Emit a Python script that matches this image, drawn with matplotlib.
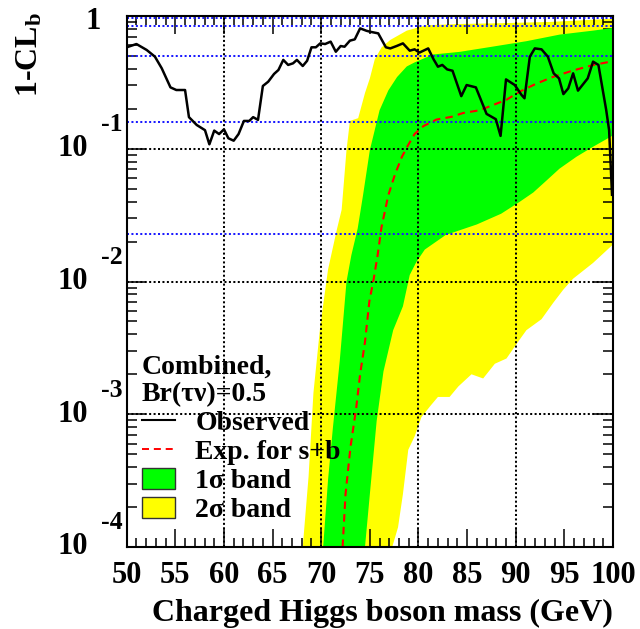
import matplotlib
matplotlib.use("Agg")
import matplotlib.pyplot as plt
from matplotlib.ticker import MultipleLocator, LogLocator, NullFormatter
from matplotlib.lines import Line2D
from matplotlib.patches import Patch

# ---------------- data ----------------
obs_x = [50.0, 51.0, 52.05, 52.9, 53.6, 54.5, 55.1, 56.0, 56.4, 57.2, 58.05, 58.5, 59.0, 59.5,
         60.0, 60.45, 61.0, 61.5, 62.05, 62.6, 63.0, 63.5, 64.0, 64.55, 65.15, 65.6, 66.1, 66.6,
         67.1, 67.5, 68.1, 68.55, 69.0, 69.45, 69.9, 70.4, 70.97, 71.5, 72.0, 72.4, 72.95, 73.45,
         74.0, 74.65, 75.0, 75.86, 76.65, 77.1, 77.75, 78.4, 79.1, 79.6, 80.1, 81.0, 81.55, 82.0,
         82.45, 82.95, 83.5, 84.4, 84.95, 85.9, 87.0, 87.95, 88.44, 89.0, 89.9, 90.6, 90.9, 91.45,
         91.96, 92.65, 93.3, 93.9, 94.45, 94.9, 95.4, 95.9, 96.4, 97.4, 97.95, 98.5, 99.3, 99.6, 99.9]
obs_y = [0.581, 0.615, 0.555, 0.494, 0.404, 0.290, 0.277, 0.277, 0.173, 0.151, 0.138, 0.108, 0.137, 0.129,
         0.140, 0.120, 0.115, 0.129, 0.162, 0.162, 0.173, 0.165, 0.297, 0.320, 0.366, 0.392, 0.467, 0.428,
         0.440, 0.467, 0.420, 0.460, 0.581, 0.581, 0.622, 0.615, 0.641, 0.538, 0.594, 0.587, 0.652, 0.667,
         0.807, 0.774, 0.762, 0.740, 0.581, 0.570, 0.594, 0.622, 0.548, 0.561, 0.530, 0.570, 0.472, 0.415,
         0.428, 0.396, 0.387, 0.249, 0.302, 0.290, 0.183, 0.167, 0.125, 0.333, 0.302, 0.254, 0.240, 0.494,
         0.570, 0.561, 0.494, 0.370, 0.339, 0.258, 0.285, 0.370, 0.274, 0.339, 0.453, 0.428, 0.196, 0.138, 0.045]

exp_x = [72.2, 72.5, 73.0, 73.6, 74.0, 74.5, 74.95, 75.4, 75.8, 76.2, 76.9, 77.6, 78.3, 78.95,
         79.6, 80.5, 81.85, 83.4, 84.6, 86.3, 87.7, 89.05, 90.4, 92.1, 93.8, 95.9, 97.95, 100.0]
exp_y = [1.0e-4, 2.5e-4, 5.6e-4, 1.12e-3, 2.0e-3, 3.5e-3, 7.1e-3, 0.0105, 0.0158, 0.0257, 0.0447,
         0.0646, 0.0871, 0.107, 0.129, 0.148, 0.166, 0.174, 0.186, 0.195, 0.214, 0.234, 0.269, 0.309,
         0.347, 0.389, 0.427, 0.457]

s1_up_x = [70.2, 70.7, 71.2, 71.9, 72.6, 73.1, 73.75, 74.3, 75.0, 76.0, 76.9, 77.8, 78.8, 79.6,
           81.5, 84.25, 87.7, 91.1, 94.5, 97.95, 100.0]
s1_up_y = [1.0e-4, 3.2e-4, 7.9e-4, 2.5e-3, 0.010, 0.0158, 0.0251, 0.0447, 0.0977, 0.195, 0.275,
           0.347, 0.417, 0.447, 0.513, 0.537, 0.589, 0.646, 0.724, 0.776, 0.813]
s1_lo_x = [74.5, 75.0, 75.7, 76.4, 77.4, 78.4, 79.1, 79.8, 80.65, 82.8, 86.0, 88.5, 90.4, 91.8,
           93.15, 94.5, 96.25, 97.95, 100.0]
s1_lo_y = [1.0e-4, 2.5e-4, 8.9e-4, 2.1e-3, 4.3e-3, 6.5e-3, 0.0112, 0.0141, 0.0174, 0.0224, 0.0269,
           0.0324, 0.0398, 0.0468, 0.0575, 0.0708, 0.0871, 0.1035, 0.126]

s2_up_x = [68.1, 68.7, 69.2, 69.9, 70.7, 71.6, 72.1, 72.6, 72.95, 73.8, 74.5, 75.0, 75.5, 76.2,
           77.1, 78.8, 80.8, 84.3, 88.0, 93.5, 98.8, 100.0]
s2_up_y = [1.0e-4, 3.4e-4, 1.45e-3, 4.6e-3, 0.0123, 0.0245, 0.0347, 0.0977, 0.162, 0.170, 0.263,
           0.339, 0.47, 0.58, 0.66, 0.776, 0.851, 0.871, 0.881, 0.902, 0.944, 0.955]
s2_lo_x = [77.3, 77.9, 78.4, 78.95, 79.6, 80.3, 81.2, 82.0, 83.2, 84.1, 85.45, 86.65, 87.85, 89.05,
           90.1, 91.1, 92.65, 93.85, 94.9, 95.9, 97.95, 100.0]
s2_lo_y = [1.0e-4, 1.41e-4, 2.5e-4, 5.4e-4, 6.8e-4, 9.5e-4, 1.15e-3, 1.35e-3, 1.35e-3, 1.62e-3,
           2.0e-3, 1.86e-3, 2.4e-3, 2.63e-3, 3.4e-3, 4.3e-3, 5.2e-3, 6.9e-3, 8.7e-3, 0.0105, 0.0138, 0.019]

sigma_levels = [0.96, 0.841, 0.5, 0.159, 0.0228]
grid_x = [60, 70, 80, 90]
grid_y = [1e-1, 1e-2, 1e-3]
x_ticks = list(range(50, 101, 5))
y_exponents = [-1, -2, -3, -4]
legend_labels = ["Observed", "Exp. for s+b", "1\u03c3 band", "2\u03c3 band"]
legend_title = "Combined,\nBr(\u03c4\u03bd)=0.5"

# ---------------- style ----------------
plt.rcParams['font.family'] = ['Liberation Serif', 'DejaVu Serif']
plt.rcParams['font.weight'] = 'bold'
plt.rcParams['mathtext.fontset'] = 'custom'
plt.rcParams['mathtext.rm'] = 'Liberation Serif:bold'
plt.rcParams['mathtext.it'] = 'Liberation Serif:bold'
plt.rcParams['mathtext.bf'] = 'Liberation Serif:bold'

W, H = 640, 629
fig = plt.figure(figsize=(W / 100, H / 100), dpi=100)
L, R, T, B = 126.7, 613.0, 16.0, 547.0
ax = fig.add_axes([L / W, 1 - B / H, (R - L) / W, (B - T) / H])

GREEN = '#00ff00'
YELLOW = '#ffff00'

ax.fill(s2_up_x + s2_lo_x[::-1], s2_up_y + s2_lo_y[::-1], color=YELLOW, lw=0, zorder=1)
ax.fill(s1_up_x + s1_lo_x[::-1], s1_up_y + s1_lo_y[::-1], color=GREEN, lw=0, zorder=2)

dots = (0, (1, 1.2))
for v in sigma_levels:
    ax.axhline(v, color='#1a1aff', lw=1.45, ls=dots, zorder=3)
for v in grid_x:
    ax.axvline(v, color='black', lw=1.45, ls=dots, zorder=3)
for v in grid_y:
    ax.axhline(v, color='black', lw=1.45, ls=dots, zorder=3)

ax.plot(exp_x, exp_y, color='red', lw=1.5, ls=(0, (3.6, 2.5)), zorder=4)
ax.plot(obs_x, obs_y, color='black', lw=1.8, zorder=5)

ax.set_xlim(50, 100)
ax.set_yscale('log')
ax.set_ylim(1e-4, 1)

ax.set_xticks(x_ticks)
ax.xaxis.set_minor_locator(MultipleLocator(1))
ax.yaxis.set_major_locator(LogLocator(base=10, numticks=10))
ax.yaxis.set_minor_locator(LogLocator(base=10, subs=range(2, 10), numticks=20))
ax.yaxis.set_major_formatter(NullFormatter())
ax.yaxis.set_minor_formatter(NullFormatter())
ax.tick_params(which='both', direction='in', top=True, right=True, width=1.1, colors='black')
ax.tick_params(axis='x', which='major', length=13, labelsize=22, pad=10)
ax.tick_params(axis='x', which='minor', length=6.3)
ax.tick_params(axis='y', which='major', length=14)
ax.tick_params(axis='y', which='minor', length=7)
ax.tick_params(axis='y', labelleft=False)
for sp in ax.spines.values():
    sp.set_linewidth(1.5)
    sp.set_zorder(10)

# y tick labels (ROOT style)
ax.annotate('1', xy=(0, 1.0), xycoords=('axes fraction', 'data'), xytext=(-23.9, -4),
            textcoords='offset points', ha='center', va='center', fontsize=22)
for e in y_exponents:
    ax.annotate('10', xy=(0, 10.0 ** e), xycoords=('axes fraction', 'data'), xytext=(-38.7, 0),
                textcoords='offset points', ha='center', va='center', fontsize=22)
    ax.annotate('-%d' % abs(e), xy=(0, 10.0 ** e), xycoords=('axes fraction', 'data'),
                xytext=(-11, 17.3), textcoords='offset points', ha='center', va='center', fontsize=18.5)

# axis titles
fig.text(R / W, 1 - 621 / H, 'Charged Higgs boson mass (GeV)', ha='right', va='baseline', fontsize=23)
fig.text(30 / W, 1 - 12 / H, '1-CL$_{\\mathrm{b}}$', ha='center', va='top', rotation=90, fontsize=23)

# legend
handles = [Line2D([], [], color='black', lw=1.5),
           Line2D([], [], color='red', lw=1.4, ls=(0, (3.6, 2.5))),
           Patch(facecolor=GREEN, edgecolor='#333333', lw=1.0),
           Patch(facecolor=YELLOW, edgecolor='#333333', lw=1.0)]
leg = ax.legend(handles, legend_labels, title=legend_title, loc='lower left',
                bbox_to_anchor=(0.0315, 0.045), frameon=False, fontsize=20, title_fontsize=20,
                handlelength=1.2, handleheight=0.8, handletextpad=0.72, labelspacing=0.1,
                borderpad=0, borderaxespad=0, alignment='left')
leg.get_title().set_fontweight('bold')
leg.get_title().set_linespacing(1.12)
leg.set_zorder(8)

fig.savefig('out.png', dpi=100)
